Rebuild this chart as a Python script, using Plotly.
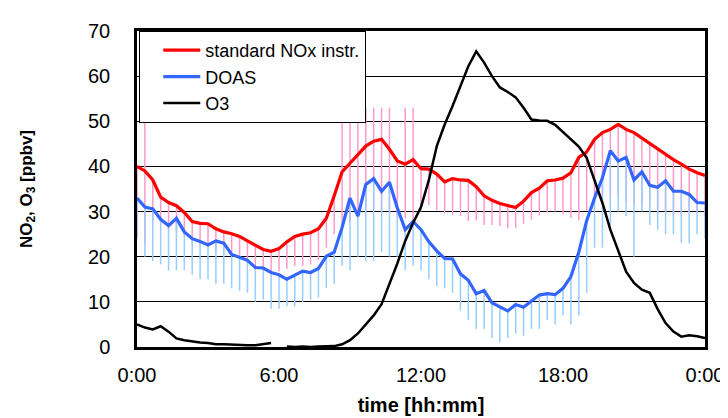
import plotly.graph_objects as go

# time in hours, 20-minute steps
hours = [i / 3 for i in range(73)]

nox_std = [40.0, 39.0, 37.0, 33.2, 32.0, 31.3, 29.8, 27.8, 27.4, 27.3, 26.2, 25.5,
           25.1, 24.5, 23.5, 22.5, 21.6, 21.2, 21.8, 23.3, 24.5, 25.0, 25.3, 26.2,
           28.5, 33.5, 38.8, 40.7, 42.5, 44.5, 45.6, 46.0, 43.8, 41.2, 40.5, 41.5,
           39.5, 39.4, 38.3, 36.6, 37.3, 37.0, 36.9, 35.5, 33.5, 32.5, 31.8, 31.3,
           30.9, 32.3, 34.2, 35.2, 36.8, 37.0, 37.4, 38.6, 42.0, 43.2, 46.0, 47.5,
           48.2, 49.3, 48.2, 47.5, 46.3, 45.0, 43.7, 42.5, 41.5, 40.5, 39.4, 38.6, 38.0]

nox_err_minus = [16, 16, 9, 6, 6, 6, 5, 5, 5, 5, 5, 4.5,
                 5, 5, 4.5, 5.5, 4.5, 4.7, 5, 6, 6.5, 7, 7, 7,
                 6.5, 8.5, 12, 13, 14, 14, 15, 16, 14, 13, 12, 14,
                 9.5, 8, 8, 7, 8, 8, 9, 7.5, 6.5, 5.5, 5, 5,
                 4.5, 5, 6, 6, 7, 7, 8, 10, 14, 13, 14, 14,
                 15, 16, 16, 16, 15, 14, 14, 12.5, 12.5, 11.5, 9.5, 8.5, 9]

nox_err_plus = [0, 14, 0, 0, 0, 0, 0, 0, 0, 0, 0, 0,
                0, 0, 0, 0, 0, 0, 0, 0, 0, 0, 0, 0,
                0, 0, 14.2, 12.3, 10.5, 8.5, 7.4, 7, 9.2, 0, 12.5, 11.5,
                0, 0, 0, 0, 0, 0, 0, 0, 0, 0, 0, 0,
                0, 0, 0, 0, 0, 0, 0, 0, 0, 0, 0, 0,
                0, 0, 0, 0, 0, 0, 0, 0, 0, 0, 0, 0, 0]

doas = [33.0, 31.0, 30.6, 28.3, 26.9, 28.5, 25.5, 24.0, 23.4, 22.6, 23.5, 23.0,
        20.5, 19.9, 19.2, 17.6, 17.5, 16.5, 16.0, 15.0, 16.0, 16.8, 16.5, 17.4,
        20.1, 21.0, 26.5, 33.0, 29.0, 36.0, 37.3, 34.5, 36.5, 30.8, 26.0, 27.8,
        26.0, 23.3, 21.3, 19.6, 19.5, 16.2, 14.8, 11.8, 12.5, 9.8, 8.9, 8.0,
        9.4, 8.8, 10.2, 11.5, 11.8, 11.6, 13.0, 15.6, 21.0, 28.0, 33.0, 37.5,
        43.5, 41.2, 42.0, 37.0, 38.8, 35.8, 35.4, 36.8, 34.5, 34.5, 33.8, 32.0, 31.9]

doas_err_minus = [9, 11, 11.6, 10, 10, 11.5, 8.5, 8, 8.4, 7.6, 9.5, 9,
                  7.5, 7.4, 7.2, 7.6, 7, 8, 7.5, 6, 7, 6.8, 6, 6.4,
                  7, 7, 8.5, 16, 9, 17, 18.3, 13.5, 16.5, 10.8, 9, 9.8,
                  9, 8.3, 7.8, 6.6, 7.5, 8.2, 8.8, 7.8, 8.5, 7.8, 7.9, 6,
                  6.4, 6.3, 6.2, 7.5, 5.8, 6.6, 6, 10.6, 14, 16, 11, 15.5,
                  16.5, 11.2, 13, 17, 8.8, 8.8, 9.4, 11.8, 9.5, 11.5, 10.8, 7, 7.9]

o3 = [5.0, 4.3, 3.9, 4.6, 3.4, 1.9, 1.5, 1.2, 1.0, 0.9, 0.6, 0.6,
      0.5, 0.5, 0.4, 0.4, 0.7, 0.9, None, 0.1, 0.0, 0.1, 0.0, 0.1,
      0.2, 0.2, 0.6, 1.5, 3.0, 5.0, 7.0, 9.5, 13.8, 18.5, 23.5, 27.5,
      31.0, 37.0, 44.5, 49.3, 53.4, 58.0, 62.2, 65.5, 63.0, 60.0, 57.5, 56.5,
      55.3, 53.0, 50.4, 50.2, 50.1, 49.2, 47.6, 45.8, 44.4, 41.9, 36.8, 31.9,
      26.0, 21.5, 16.7, 14.2, 12.7, 12.0, 8.4, 5.3, 3.4, 2.3, 2.6, 2.4, 2.0]

tick_vals = [0, 6, 12, 18, 24]
tick_text = ["0:00", "6:00", "12:00", "18:00", "0:00"]

FONT = "Arial, Liberation Sans, sans-serif"
RED = "#FF0000"
BLUE = "#3366FF"
PINK = "#FF99CC"
LIGHTBLUE = "#99CCFF"

fig = go.Figure()

# error bar traces (drawn below the lines)
fig.add_trace(go.Scatter(
    x=hours, y=nox_std, mode="lines", line=dict(width=0, color="rgba(0,0,0,0)"),
    showlegend=False, hoverinfo="skip",
    error_y=dict(type="data", symmetric=False, array=nox_err_plus,
                 arrayminus=nox_err_minus, color=PINK, thickness=1.5, width=0)))
fig.add_trace(go.Scatter(
    x=hours, y=doas, mode="lines", line=dict(width=0, color="rgba(0,0,0,0)"),
    showlegend=False, hoverinfo="skip",
    error_y=dict(type="data", symmetric=False, array=[0] * len(doas),
                 arrayminus=doas_err_minus, color=LIGHTBLUE, thickness=1.5, width=0)))

fig.add_trace(go.Scatter(x=hours, y=nox_std, mode="lines", name="standard NOx instr.",
                         line=dict(color=RED, width=3.2)))
fig.add_trace(go.Scatter(x=hours, y=doas, mode="lines", name="DOAS",
                         line=dict(color=BLUE, width=3.2)))
fig.add_trace(go.Scatter(x=hours, y=o3, mode="lines", name="O3", connectgaps=False,
                         line=dict(color="black", width=2.5)))

fig.update_layout(
    width=728, height=418,
    margin=dict(l=129, r=21, t=22, b=69),
    paper_bgcolor="white", plot_bgcolor="white",
    font=dict(family=FONT, size=20, color="black"),
    showlegend=True,
    legend=dict(x=0.004, y=1.0, xanchor="left", yanchor="top",
                bgcolor="white", bordercolor="black", borderwidth=1,
                font=dict(family=FONT, size=18, color="black"),
                itemwidth=37, tracegroupgap=0, indentation=18),
    xaxis=dict(range=[0, 24], tickvals=tick_vals, ticktext=tick_text,
               showgrid=False, zeroline=False, showline=True, linecolor="black",
               linewidth=2.5, mirror=True, ticks="", ticklabelstandoff=8,
               tickfont=dict(size=20),
               title=dict(text="<b>time [hh:mm]</b>", font=dict(size=20), standoff=14)),
    yaxis=dict(range=[0, 70], dtick=10, showgrid=True, gridcolor="black", gridwidth=1.3,
               zeroline=False, showline=True, linecolor="black", linewidth=2.5,
               mirror=True, ticks="", ticklabelstandoff=20, tickfont=dict(size=20),
               title=dict(text="<b>NO<sub>2</sub>, O<sub>3</sub> [ppbv]</b>",
                          font=dict(size=17), standoff=52)),
)

fig.write_html("out.html")
